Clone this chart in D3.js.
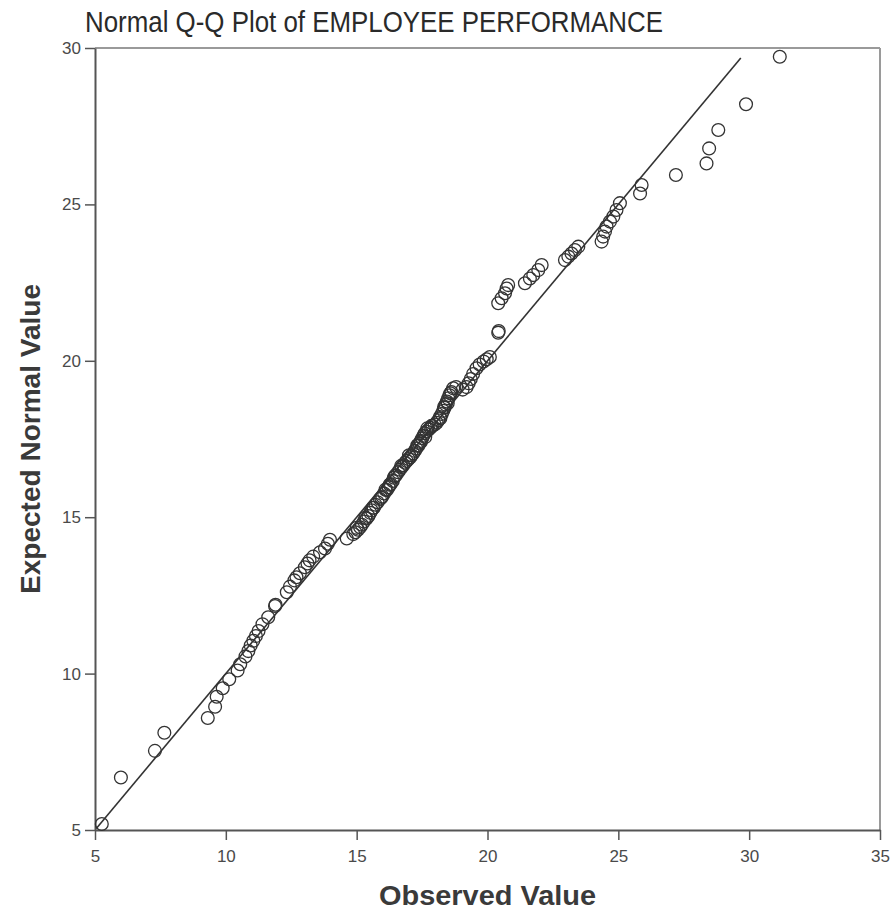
<!DOCTYPE html>
<html lang="en">
<head>
<meta charset="UTF-8">
<script src="https://d3js.org/d3.v7.min.js"></script>
<title>Normal Q-Q Plot</title>
<style>
  body { margin: 0; background: white; }
  svg { display: block; }
  .tick text { font-family: "Liberation Sans", Arial, sans-serif; font-size: 17px; fill: #4a4a4a; }
</style>
</head>
<body>
<svg></svg>
<script>
const observed = [
  5.26, 5.99, 7.29, 7.65, 9.31, 9.59, 9.65, 9.88, 10.13, 10.45,
  10.55, 10.75, 10.86, 10.95, 11.05, 11.15, 11.25, 11.40, 11.62, 11.88,
  11.90, 12.33, 12.45, 12.62, 12.70, 12.83, 13.02, 13.12, 13.20, 13.34,
  13.60, 13.79, 13.90, 13.98, 14.62, 14.87, 14.95, 15.05, 15.13, 15.20,
  15.28, 15.38, 15.45, 15.52, 15.57, 15.65, 15.72, 15.80, 15.89, 15.98,
  16.05, 16.15, 16.22, 16.30, 16.38, 16.42, 16.50, 16.58, 16.65, 16.72,
  16.78, 16.85, 16.91, 16.98, 17.05, 17.10, 17.16, 17.22, 17.28, 17.35,
  17.40, 17.45, 17.50, 17.55, 17.60, 17.67, 17.75, 17.82, 17.90, 17.98,
  18.06, 18.12, 18.18, 18.25, 18.31, 18.36, 18.40, 18.45, 18.50, 18.55,
  18.62, 18.69, 18.80, 19.05, 19.20, 19.28, 19.36, 19.45, 19.58, 19.70,
  19.85, 19.97, 20.09, 20.41, 20.43, 20.41, 20.54, 20.67, 20.73, 20.79,
  21.43, 21.62, 21.75, 21.94, 22.07, 22.96, 23.09, 23.21, 23.34, 23.47,
  24.36, 24.42, 24.49, 24.55, 24.68, 24.81, 24.93, 25.06, 25.83, 25.89,
  27.20, 28.37, 28.47, 28.82, 29.88, 31.17,
  // extra overlapping cases in the dense middle band
  15.00, 15.33, 15.62, 15.94, 16.10, 16.46, 16.70, 17.00, 17.32, 17.62,
  17.86, 18.20, 18.48, 18.58, 16.26, 17.45, 17.70, 18.34
];
const expected = [
  5.19, 6.68, 7.53, 8.11, 8.58, 8.94, 9.26, 9.53, 9.82, 10.10,
  10.30, 10.55, 10.72, 10.90, 11.05, 11.20, 11.36, 11.58, 11.80, 12.16,
  12.20, 12.60, 12.78, 12.98, 13.08, 13.21, 13.40, 13.52, 13.62, 13.74,
  13.88, 14.00, 14.15, 14.28, 14.32, 14.46, 14.52, 14.60, 14.68, 14.76,
  14.86, 14.96, 15.04, 15.14, 15.22, 15.30, 15.40, 15.48, 15.58, 15.66,
  15.76, 15.87, 15.96, 16.06, 16.16, 16.26, 16.34, 16.44, 16.52, 16.60,
  16.66, 16.74, 16.80, 16.86, 16.92, 16.98, 17.04, 17.12, 17.20, 17.28,
  17.36, 17.44, 17.52, 17.60, 17.68, 17.74, 17.80, 17.86, 17.92, 17.96,
  18.02, 18.10, 18.20, 18.30, 18.40, 18.50, 18.60, 18.70, 18.80, 18.90,
  19.00, 19.12, 19.16, 19.08, 19.16, 19.28, 19.42, 19.58, 19.76, 19.88,
  19.98, 20.05, 20.12, 20.90, 20.95, 21.84, 22.00, 22.16, 22.31, 22.42,
  22.48, 22.63, 22.74, 22.90, 23.06, 23.22, 23.33, 23.43, 23.54, 23.65,
  23.81, 23.97, 24.13, 24.29, 24.45, 24.61, 24.82, 25.04, 25.35, 25.62,
  25.94, 26.31, 26.79, 27.38, 28.20, 29.72,
  14.66, 14.98, 15.30, 15.62, 15.88, 16.32, 16.64, 16.98, 17.30, 17.56,
  17.92, 18.16, 18.64, 18.96, 16.04, 17.40, 17.84, 18.52
];
const refLine = [5.05, 29.68];
const xTicks = [5, 10, 15, 20, 25, 30, 35];
const yTicks = [5, 10, 15, 20, 25, 30];

const W = 894, H = 914;
const mLeft = 95, mRight = 880, mTop = 48, mBottom = 830;

const svg = d3.select("svg").attr("width", W).attr("height", H);

const x = d3.scaleLinear().domain([5, 35]).range([mLeft, mRight]);
const y = d3.scaleLinear().domain([5, 30]).range([mBottom, mTop]);

// frame top and right
svg.append("line").attr("x1", mLeft).attr("x2", mRight).attr("y1", mTop).attr("y2", mTop)
   .attr("stroke", "#9a9a9a").attr("stroke-width", 2);
svg.append("line").attr("x1", mRight).attr("x2", mRight).attr("y1", mTop).attr("y2", mBottom)
   .attr("stroke", "#9a9a9a").attr("stroke-width", 2);

const xAxis = svg.append("g")
   .attr("transform", "translate(0," + mBottom + ")")
   .call(d3.axisBottom(x).tickValues(xTicks).tickSize(10).tickPadding(10).tickSizeOuter(0));
const yAxis = svg.append("g")
   .attr("transform", "translate(" + mLeft + ",0)")
   .call(d3.axisLeft(y).tickValues(yTicks).tickSize(10).tickPadding(4).tickSizeOuter(0));
[xAxis, yAxis].forEach(g => {
  g.select(".domain").attr("stroke", "#555").attr("stroke-width", 2);
  g.selectAll(".tick line").attr("stroke", "#555").attr("stroke-width", 1.5);
});

// reference line
svg.append("line")
   .attr("x1", x(refLine[0])).attr("y1", y(refLine[0]))
   .attr("x2", x(refLine[1])).attr("y2", y(refLine[1]))
   .attr("stroke", "#333").attr("stroke-width", 1.6);

// points
svg.append("g").selectAll("circle")
   .data(observed.map((d, i) => [d, expected[i]]))
   .enter()
   .append("circle")
   .attr("cx", d => x(d[0]))
   .attr("cy", d => y(d[1]))
   .attr("r", 6.4)
   .attr("fill", "none")
   .attr("stroke", "#333")
   .attr("stroke-width", 1.3);

// titles
svg.append("text")
   .attr("x", 85).attr("y", 32)
   .attr("font-family", "Liberation Sans, Arial, sans-serif")
   .attr("font-size", 30)
   .attr("fill", "#2a2a2a")
   .attr("textLength", 578)
   .attr("lengthAdjust", "spacingAndGlyphs")
   .text("Normal Q-Q Plot of EMPLOYEE PERFORMANCE");

svg.append("text")
   .attr("x", (mLeft + mRight) / 2).attr("y", 905)
   .attr("text-anchor", "middle")
   .attr("font-family", "Liberation Sans, Arial, sans-serif")
   .attr("font-size", 27).attr("font-weight", "bold")
   .attr("fill", "#3a3a3a")
   .attr("textLength", 217)
   .attr("lengthAdjust", "spacingAndGlyphs")
   .text("Observed Value");

svg.append("text")
   .attr("transform", "translate(40," + ((mTop + mBottom) / 2) + ") rotate(-90)")
   .attr("text-anchor", "middle")
   .attr("font-family", "Liberation Sans, Arial, sans-serif")
   .attr("font-size", 28).attr("font-weight", "bold")
   .attr("fill", "#3a3a3a")
   .attr("textLength", 310)
   .attr("lengthAdjust", "spacingAndGlyphs")
   .text("Expected Normal Value");
</script>
</body>
</html>
